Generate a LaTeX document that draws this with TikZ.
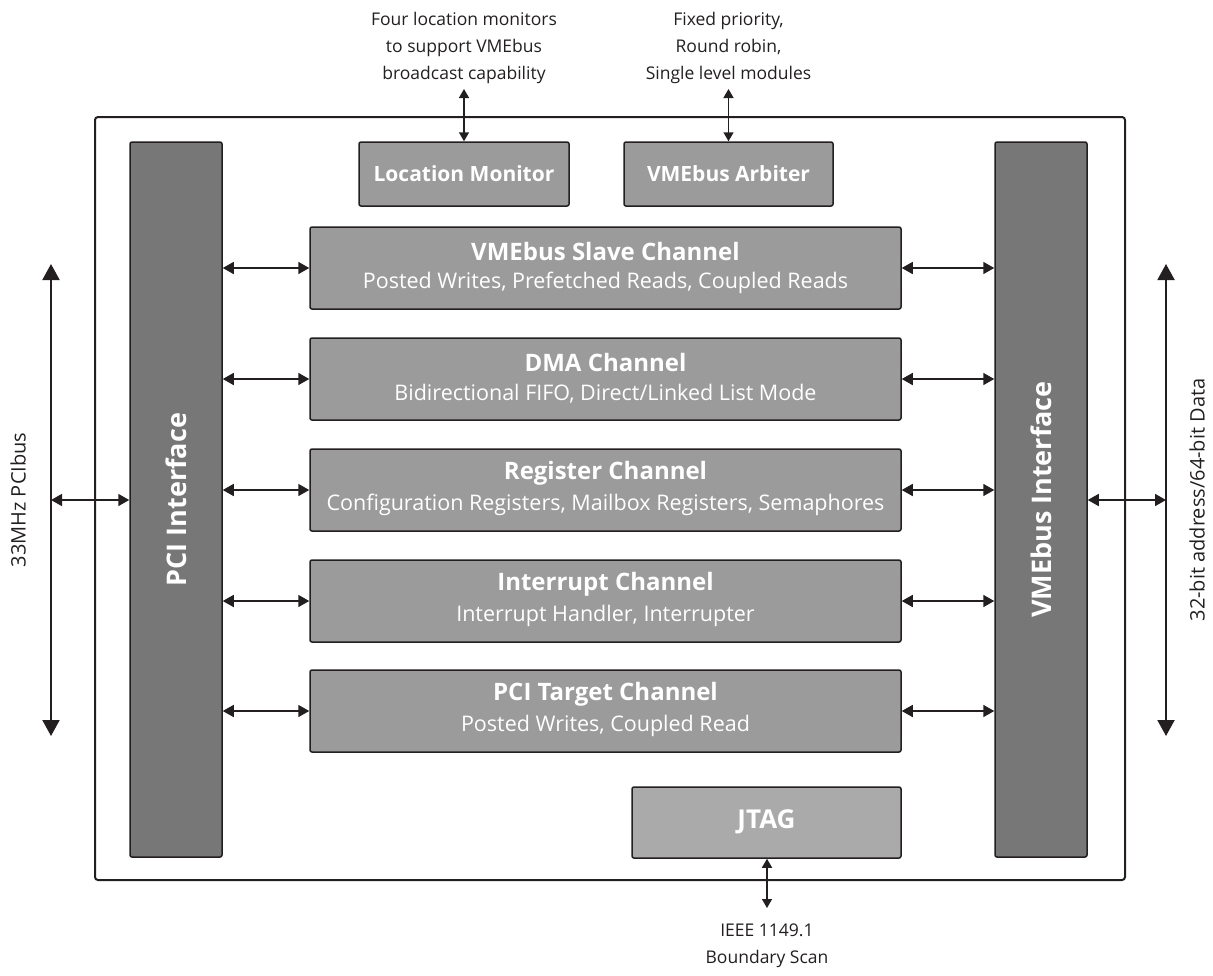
\documentclass[tikz,border=0pt]{standalone}
\usepackage{fontspec}
\setmainfont{Open Sans}
\usetikzlibrary{arrows.meta}
\definecolor{barfill}{HTML}{777777}
\definecolor{boxfill}{HTML}{9B9B9B}
\definecolor{jtagfill}{HTML}{AAAAAA}
\definecolor{edge}{HTML}{231F20}
\begin{document}
\begin{tikzpicture}[x=1pt,y=-1pt,
  bar/.style={draw=edge,line width=1.5pt,fill=barfill,rounded corners=2pt,inner sep=0pt,minimum width=92pt,minimum height=715pt},
  blk/.style={draw=edge,line width=1.5pt,fill=boxfill,rounded corners=2pt,inner sep=0pt},
  chan/.style={blk,minimum width=591pt,minimum height=82pt},
  small/.style={blk,minimum width=210pt,minimum height=64pt,text=white,font=\fontsize{21}{25}\selectfont\bfseries},
  ttl/.style={text=white,font=\fontsize{24}{28}\selectfont\bfseries,inner sep=0pt},
  sub/.style={text=white,font=\fontsize{21.5}{25}\selectfont,inner sep=0pt},
  lbl/.style={text=edge,font=\fontsize{17.5}{27}\selectfont,align=center,inner sep=0pt},
  vlbl/.style={rotate=90,text=edge,font=\fontsize{20}{24}\selectfont,inner sep=0pt},
  ilbl/.style={rotate=90,text=white,font=\fontsize{27}{31}\selectfont\bfseries,inner sep=0pt},
  biarrow/.style={draw=edge,line width=1.6pt,{Triangle[length=11pt,width=12pt]}-{Triangle[length=11pt,width=12pt]}},
  tinyarrow/.style={draw=edge,line width=1.5pt,{Triangle[length=9pt,width=10pt]}-{Triangle[length=9pt,width=10pt]}},
  busarrow/.style={draw=edge,line width=2pt,{Triangle[length=16pt,width=17pt]}-{Triangle[length=16pt,width=17pt]}}
]
\useasboundingbox (0,0) rectangle (1213,975);
% outer chip box
\draw[edge,line width=2pt,rounded corners=3pt] (95,117) rectangle (1125,880);
% interface bars
\node[bar] (pci) at (176,499.5) {};
\node[bar] (vme) at (1041,499.5) {};
\node[ilbl] (pcit) at (pci.center) {PCI Interface};
\node[ilbl] (vmet) at (vme.center) {VMEbus Interface};
% top blocks
\node[small] (lm) at (464,174) {Location Monitor};
\node[small,minimum width=209pt] (arb) at (728.5,174) {VMEbus Arbiter};
% channels
\node[chan] (c1) at (605.5,268) {};
\node[chan] (c2) at (605.5,379) {};
\node[chan] (c3) at (605.5,490) {};
\node[chan] (c4) at (605.5,601) {};
\node[chan] (c5) at (605.5,711) {};
\node[ttl] (t1) at ([yshift=17pt]c1.center) {VMEbus Slave Channel};
\node[sub] (s1) at ([yshift=-15pt]c1.center) {Posted Writes, Prefetched Reads, Coupled Reads};
\node[ttl] (t2) at ([yshift=17pt]c2.center) {DMA Channel};
\node[sub] (s2) at ([yshift=-15pt]c2.center) {Bidirectional FIFO, Direct/Linked List Mode};
\node[ttl] (t3) at ([yshift=17pt]c3.center) {Register Channel};
\node[sub] (s3) at ([yshift=-15pt]c3.center) {Configuration Registers, Mailbox Registers, Semaphores};
\node[ttl] (t4) at ([yshift=17pt]c4.center) {Interrupt Channel};
\node[sub] (s4) at ([yshift=-15pt]c4.center) {Interrupt Handler, Interrupter};
\node[ttl] (t5) at ([yshift=17pt]c5.center) {PCI Target Channel};
\node[sub] (s5) at ([yshift=-15pt]c5.center) {Posted Writes, Coupled Read};
% JTAG
\node[blk,fill=jtagfill,minimum width=269pt,minimum height=71pt] (jtag) at (766.5,822.5) {};
\node[text=white,font=\fontsize{26}{30}\selectfont\bfseries,inner sep=0pt] (jt) at ([yshift=1pt]jtag.center) {JTAG};
% channel arrows
\foreach \c in {c1,c2,c3,c4,c5}{
  \draw[biarrow] (pci.east |- \c.west) -- (\c.west);
  \draw[biarrow] (\c.east) -- (vme.west |- \c.east);
}
% outside labels
\node[lbl] (lmtxt) at (464,48) {Four location monitors\\to support VMEbus\\broadcast capability};
\node[lbl] (arbtxt) at (728.5,48) {Fixed priority,\\Round robin,\\Single level modules};
\node[lbl] (jtxt) at (767,946) {IEEE 1149.1\\Boundary Scan};
\coordinate (lmtop) at (464,89);
\coordinate (arbtop) at (728.5,89);
\coordinate (jbot) at (767,908);
\draw[tinyarrow] (lmtop) -- (lm.north);
\draw[tinyarrow] (arbtop) -- (arb.north);
\draw[tinyarrow] (jtag.south -| jbot) -- (jbot);
% buses
\coordinate (lbtop) at (51,264);
\coordinate (lbbot) at (51,736);
\coordinate (rbtop) at (1166,264);
\coordinate (rbbot) at (1166,736);
\draw[busarrow] (lbtop) -- (lbbot);
\draw[busarrow] (rbtop) -- (rbbot);
\coordinate (lbmid) at (51,500);
\coordinate (rbmid) at (1166,500);
\draw[biarrow] (lbmid) -- (pci.west |- lbmid);
\draw[biarrow] (vme.east |- rbmid) -- (rbmid);
\node[vlbl] (pcibus) at (18,500) {33MHz PCIbus};
\node[vlbl] (vmebus) at (1197,500) {32-bit address/64-bit Data};
\end{tikzpicture}
\end{document}
